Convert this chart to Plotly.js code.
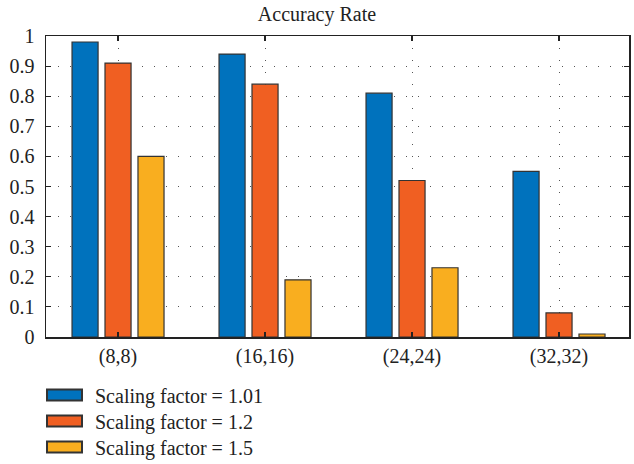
<!DOCTYPE html>
<html>
<head>
<meta charset="utf-8">
<script src="https://cdn.plot.ly/plotly-3.0.1.min.js"></script>
<style>body{margin:0;background:#fff}#chart{width:634px;height:464px}</style>
</head>
<body>
<div id="chart"></div>
<script>
const categories = ["(8,8)", "(16,16)", "(24,24)", "(32,32)"];
const seriesNames = ["Scaling factor = 1.01", "Scaling factor = 1.2", "Scaling factor = 1.5"];
const sf101 = [0.98, 0.94, 0.81, 0.55];
const sf12 = [0.91, 0.84, 0.52, 0.08];
const sf15 = [0.60, 0.19, 0.23, 0.01];
const yTicks = [0, 0.1, 0.2, 0.3, 0.4, 0.5, 0.6, 0.7, 0.8, 0.9, 1];
const yTickText = ["0", "0.1", "0.2", "0.3", "0.4", "0.5", "0.6", "0.7", "0.8", "0.9", "1"];

const colors = ["#0072BD", "#F05F22", "#F9AE1F"];
const values = [sf101, sf12, sf15];
const FONT = "Liberation Serif, Times New Roman, serif";

const traces = values.map((v, i) => ({
  type: "bar",
  x: categories,
  y: v,
  name: seriesNames[i],
  marker: {color: colors[i], line: {color: "#333333", width: 1.2}},
  hoverinfo: "skip"
}));

const layout = {
  width: 634, height: 464,
  margin: {l: 46, r: 5, t: 36, b: 127},
  paper_bgcolor: "#ffffff", plot_bgcolor: "#ffffff",
  font: {family: FONT, size: 20, color: "#222222"},
  title: {text: "Accuracy Rate", font: {family: FONT, size: 20, color: "#222222"}, x: 0.5, xanchor: "center", y: 0.985, yanchor: "top"},
  barmode: "group",
  bargap: 0.327,
  bargroupgap: 0.21,
  showlegend: true,
  legend: {
    x: 0.0, xanchor: "left", y: -0.08, yanchor: "top",
    font: {family: FONT, size: 20, color: "#222222"},
    bgcolor: "rgba(0,0,0,0)", tracegroupgap: 0, itemsizing: "constant"
  },
  xaxis: {
    type: "category",
    range: [-0.49, 3.476],
    showline: true, linecolor: "#222222", linewidth: 1.5, mirror: "ticks",
    ticks: "inside", ticklen: 5, tickcolor: "#222222", tickwidth: 1.2,
    showgrid: true, gridcolor: "#555555", griddash: "1px,11px", gridwidth: 1,
    tickfont: {family: FONT, size: 20, color: "#222222"},
    zeroline: false, fixedrange: true
  },
  yaxis: {
    range: [0, 1],
    tickmode: "array", tickvals: yTicks, ticktext: yTickText,
    showline: true, linecolor: "#222222", linewidth: 1.5, mirror: "ticks",
    ticks: "inside", ticklen: 5, tickcolor: "#222222", tickwidth: 1.2,
    showgrid: true, gridcolor: "#555555", griddash: "1px,11px", gridwidth: 1,
    tickfont: {family: FONT, size: 20, color: "#222222"},
    zeroline: false, fixedrange: true, ticklabelstandoff: 6
  }
};

// legend look of the original: wide swatches, fixed row pitch
const LEG_SWATCH_LEFT = 47, LEG_TEXT_GAP = 48, LEG_ROW0 = 395, LEG_PITCH = 26;

Plotly.newPlot("chart", traces, layout, {staticPlot: true, displayModeBar: false}).then(gd => {
  const root = gd.getBoundingClientRect();
  gd.querySelectorAll(".legend [clip-path], .legend").forEach(el => el.removeAttribute("clip-path"));
  gd.querySelectorAll(".legend .traces").forEach((item, i) => {
    const pts = item.querySelector(".legendpoints");
    const path = pts.querySelector("path");
    path.setAttribute("d", "M17.5,5.5H-17.5V-5.5H17.5Z");
    const text = item.querySelector(".legendtext");
    let tr = text.getBoundingClientRect();
    let pr = path.getBoundingClientRect();
    const shift = (tr.left - LEG_TEXT_GAP) - pr.left;
    pts.setAttribute("transform", (pts.getAttribute("transform") || "") + " translate(" + shift + ",0)");
    pr = path.getBoundingClientRect();
    const dx = (root.left + LEG_SWATCH_LEFT) - pr.left;
    const dy = (root.top + LEG_ROW0 + i * LEG_PITCH) - (pr.top + pr.height / 2);
    item.setAttribute("transform", (item.getAttribute("transform") || "") + " translate(" + dx + "," + dy + ")");
  });
});
</script>
</body>
</html>
